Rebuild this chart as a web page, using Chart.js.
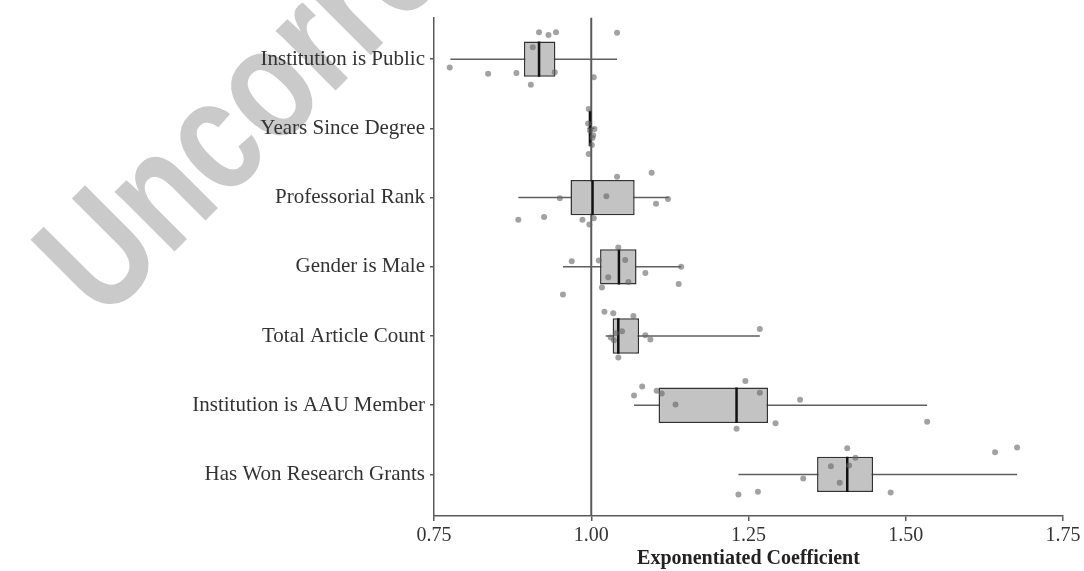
<!DOCTYPE html>
<html>
<head>
<meta charset="utf-8">
<script src="https://cdn.jsdelivr.net/npm/chart.js@4/dist/chart.umd.min.js"></script>
<style>
  html, body { margin: 0; padding: 0; background: #fff; }
  canvas { display: block; }
</style>
</head>
<body>
<canvas id="chart" width="1084" height="571"></canvas>
<script>
// Predictors, top to bottom
const categories = [
  'Institution is Public',
  'Years Since Degree',
  'Professorial Rank',
  'Gender is Male',
  'Total Article Count',
  'Institution is AAU Member',
  'Has Won Research Grants'
];

// Box-plot summaries of the exponentiated coefficients
const whiskerLow  = [0.776, 0.994, 0.884, 0.955, 1.023, 1.068, 1.234];
const quartile1   = [0.893, 0.996, 0.967, 1.014, 1.034, 1.107, 1.359];
const medians     = [0.917, 0.998, 1.002, 1.044, 1.043, 1.231, 1.407];
const quartile3   = [0.943, 1.000, 1.069, 1.072, 1.076, 1.281, 1.448];
const whiskerHigh = [1.041, 1.005, 1.123, 1.143, 1.268, 1.534, 1.677];

// Individual model estimates per predictor
const pointValues = [
  [0.917, 0.932, 0.944, 1.041, 0.907, 0.775, 0.836, 0.881, 0.942, 0.904, 1.004],
  [0.996, 0.995, 0.998, 1.005, 1.003, 1.002, 1.001, 0.996],
  [1.041, 1.096, 0.950, 1.024, 1.122, 1.103, 0.884, 0.925, 0.986, 1.004, 0.997],
  [1.043, 0.969, 1.012, 1.054, 1.143, 1.086, 1.027, 1.059, 1.017, 1.139, 0.955],
  [1.021, 1.035, 1.067, 1.049, 1.039, 1.031, 1.036, 1.086, 1.094, 1.043, 1.268],
  [1.068, 1.081, 1.104, 1.112, 1.134, 1.245, 1.268, 1.332, 1.293, 1.231, 1.534],
  [1.407, 1.420, 1.410, 1.381, 1.395, 1.337, 1.642, 1.677, 1.476, 1.234, 1.265]
];
// Vertical jitter of each estimate (in row units)
const pointJitter = [
  [-0.39, -0.35, -0.39, -0.38, -0.17, 0.12, 0.21, 0.20, 0.19, 0.37, 0.26],
  [-0.28, -0.07, 0.03, 0.01, 0.10, 0.14, 0.24, 0.37],
  [-0.30, -0.36, 0.01, -0.02, 0.02, 0.09, 0.32, 0.28, 0.32, 0.30, 0.39],
  [-0.28, -0.08, -0.09, -0.10, 0.00, 0.09, 0.15, 0.22, 0.30, 0.25, 0.40],
  [-0.35, -0.33, -0.29, -0.07, -0.04, 0.02, 0.06, -0.01, 0.05, 0.31, -0.10],
  [-0.14, -0.27, -0.21, -0.17, -0.01, -0.35, -0.18, -0.08, 0.26, 0.34, 0.24],
  [-0.38, -0.24, -0.13, -0.12, 0.12, 0.06, -0.32, -0.39, 0.26, 0.29, 0.25]
];

const xTicks = [0.75, 1.00, 1.25, 1.50, 1.75];
const referenceValue = 1.00;
const watermarkText = 'Uncorrected Proof';

const SERIF = '"Liberation Serif", "Times New Roman", serif';
const AXIS_COLOR = '#5a5a5a';
const BOX_HALF = 0.255; // half box height in row units (matches bar thickness)

// Light grey diagonal stamp behind the plot
const watermark = {
  id: 'watermark',
  beforeDraw(chart) {
    const ctx = chart.ctx;
    ctx.save();
    ctx.translate(103, 323);
    ctx.rotate(-Math.PI / 4);
    ctx.scale(0.8, 1);
    ctx.font = 'bold 160px "Liberation Sans", Arial, sans-serif';
    ctx.fillStyle = '#cacaca';
    ctx.textBaseline = 'alphabetic';
    ctx.fillText(watermarkText, 0, 0);
    ctx.restore();
  }
};

const datasets = [];

// Jittered estimates
datasets.push({
  type: 'scatter',
  data: pointValues.flatMap((vals, i) => vals.map((v, k) => ({ x: v, y: i + pointJitter[i][k] }))),
  backgroundColor: 'rgba(100,100,100,0.6)',
  borderWidth: 0,
  pointRadius: 3,
  order: 0
});

// Medians
categories.forEach((c, i) => {
  datasets.push({
    type: 'line',
    data: [{ x: medians[i], y: i - BOX_HALF }, { x: medians[i], y: i + BOX_HALF }],
    borderColor: '#111',
    borderWidth: 2.5,
    pointRadius: 0,
    order: 1
  });
});

// Interquartile boxes
datasets.push({
  type: 'bar',
  indexAxis: 'y',
  data: categories.map((c, i) => ({ y: i, x: [quartile1[i], quartile3[i]] })),
  backgroundColor: '#c3c3c3',
  borderColor: '#333',
  borderWidth: 1.5,
  borderSkipped: false,
  categoryPercentage: 1,
  barPercentage: 2 * BOX_HALF,
  order: 2
});

// Whiskers
categories.forEach((c, i) => {
  datasets.push({
    type: 'line',
    data: [{ x: whiskerLow[i], y: i }, { x: whiskerHigh[i], y: i }],
    borderColor: '#5f5f5f',
    borderWidth: 1.5,
    pointRadius: 0,
    order: 3
  });
});

// Reference line at 1
datasets.push({
  type: 'line',
  data: [{ x: referenceValue, y: -0.6 }, { x: referenceValue, y: categories.length - 0.4 }],
  borderColor: AXIS_COLOR,
  borderWidth: 2,
  pointRadius: 0,
  order: 4
});

new Chart(document.getElementById('chart'), {
  type: 'scatter',
  data: { datasets },
  plugins: [watermark],
  options: {
    responsive: false,
    devicePixelRatio: 1,
    animation: false,
    layout: { padding: { top: 12, right: 21, left: 0, bottom: 0 } },
    plugins: { legend: { display: false }, tooltip: { enabled: false } },
    scales: {
      x: {
        type: 'linear',
        offset: false,
        min: xTicks[0],
        max: xTicks[xTicks.length - 1],
        afterBuildTicks: s => { s.ticks = xTicks.map(v => ({ value: v })); },
        afterFit: s => { s.height = 55; },
        ticks: {
          callback: v => Number(v).toFixed(2),
          font: { family: SERIF, size: 20 },
          color: '#333',
          padding: 3,
          maxRotation: 0
        },
        grid: { offset: false, drawOnChartArea: false, drawTicks: true, tickLength: 5, color: AXIS_COLOR, lineWidth: 1.5 },
        border: { display: true, color: AXIS_COLOR, width: 1.5 },
        title: {
          display: true,
          text: 'Exponentiated Coefficient',
          font: { family: SERIF, size: 20, weight: 'bold' },
          color: '#222',
          padding: { top: 0, bottom: 0 }
        }
      },
      y: {
        type: 'linear',
        offset: false,
        reverse: true,
        min: -0.6,
        max: categories.length - 0.4,
        afterBuildTicks: s => { s.ticks = categories.map((c, i) => ({ value: i })); },
        afterFit: s => { s.width = 434; },
        ticks: {
          callback: v => categories[v],
          font: { family: SERIF, size: 21 },
          color: '#333',
          padding: 5
        },
        grid: { offset: false, drawOnChartArea: false, drawTicks: true, tickLength: 4, color: AXIS_COLOR, lineWidth: 1.5 },
        border: { display: true, color: AXIS_COLOR, width: 1.5 }
      }
    }
  }
});
</script>
</body>
</html>
